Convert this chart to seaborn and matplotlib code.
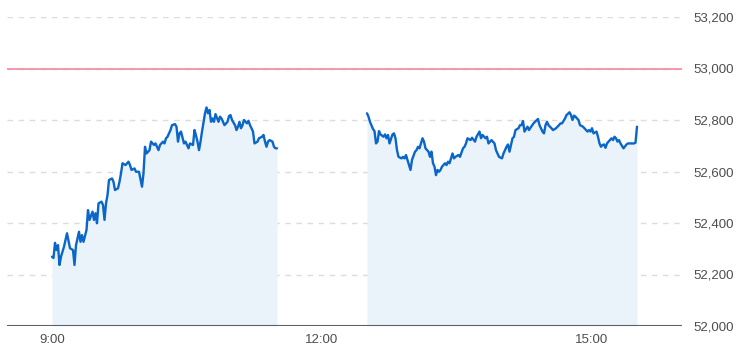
import matplotlib
matplotlib.use("Agg")
import matplotlib.pyplot as plt
import seaborn as sns
import pandas as pd

# minutes after 9:00
morning_min = [0, 1, 2, 3, 4, 5, 6, 8, 10, 12, 14, 15, 16, 18, 19, 20, 21, 23, 24, 25, 27, 28, 29, 30,
               31, 33, 34, 35, 36, 37, 38, 40, 41, 42, 44, 45, 46, 47, 49, 51, 52, 53, 55, 56, 58, 60,
               61, 62, 63, 65, 66, 68, 69, 71, 72, 74, 75, 76, 77, 79, 80, 82, 83, 84, 85, 86, 88, 89,
               91, 92, 94, 95, 96, 97, 98, 99, 100, 102, 103, 104, 105, 106, 107, 108, 109, 111, 112,
               113, 115, 117, 118, 119, 120, 122, 123, 124, 125, 126, 127, 128, 130, 131, 132, 133,
               134, 135, 137, 138, 140, 141, 142, 143, 144, 145, 147, 148, 149, 150]
morning_val = [52269, 52264, 52323, 52295, 52314, 52237, 52269, 52308, 52360, 52302, 52295, 52237,
               52314, 52366, 52327, 52353, 52327, 52373, 52450, 52412, 52444, 52412, 52438, 52399,
               52476, 52483, 52470, 52412, 52476, 52508, 52567, 52573, 52560, 52528, 52535, 52560,
               52593, 52632, 52625, 52638, 52625, 52606, 52612, 52599, 52599, 52541, 52593, 52696,
               52670, 52683, 52716, 52703, 52709, 52683, 52703, 52716, 52709, 52729, 52735, 52761,
               52780, 52784, 52774, 52716, 52748, 52755, 52709, 52716, 52690, 52709, 52703, 52761,
               52740, 52716, 52683, 52716, 52755, 52826, 52849, 52826, 52839, 52793, 52806, 52793,
               52823, 52793, 52813, 52806, 52780, 52793, 52815, 52819, 52800, 52780, 52761, 52774,
               52793, 52768, 52780, 52800, 52787, 52797, 52780, 52768, 52755, 52709, 52716, 52729,
               52735, 52742, 52716, 52696, 52716, 52722, 52716, 52696, 52690, 52690]

afternoon_min = [210, 211, 212, 214, 215, 216, 217, 218, 219, 221, 222, 223, 224, 225, 227, 228, 229,
                 230, 231, 233, 234, 235, 236, 237, 239, 240, 242, 243, 244, 245, 247, 248, 249, 251,
                 252, 253, 254, 255, 256, 257, 258, 259, 260, 262, 263, 264, 265, 267, 268, 269, 271,
                 272, 274, 275, 276, 277, 279, 280, 282, 283, 285, 286, 287, 289, 290, 291, 293, 295,
                 296, 298, 300, 301, 303, 304, 305, 307, 308, 309, 311, 312, 313, 314, 315, 317, 318,
                 319, 321, 322, 324, 325, 327, 328, 329, 330, 331, 333, 334, 336, 338, 339, 340, 341,
                 342, 343, 345, 346, 347, 348, 349, 350, 351, 352, 354, 356, 357, 358, 359, 360, 361,
                 363, 364, 365, 366, 367, 368, 369, 370, 371, 373, 374, 375, 376, 377, 378, 379, 381,
                 383, 384, 386, 388, 389, 390]
afternoon_val = [52826, 52813, 52793, 52765, 52757, 52709, 52716, 52757, 52744, 52735, 52744, 52729,
                 52742, 52709, 52744, 52748, 52729, 52683, 52657, 52651, 52657, 52651, 52664, 52645,
                 52606, 52645, 52677, 52683, 52696, 52690, 52729, 52716, 52690, 52677, 52657, 52677,
                 52632, 52619, 52586, 52606, 52599, 52606, 52619, 52632, 52625, 52638, 52632, 52670,
                 52651, 52657, 52664, 52657, 52690, 52696, 52709, 52729, 52722, 52731, 52716, 52735,
                 52755, 52729, 52742, 52729, 52735, 52709, 52722, 52709, 52683, 52657, 52651, 52670,
                 52696, 52705, 52677, 52729, 52735, 52761, 52768, 52780, 52780, 52796, 52755, 52774,
                 52761, 52770, 52787, 52793, 52804, 52780, 52755, 52748, 52780, 52793, 52780, 52768,
                 52761, 52768, 52780, 52787, 52787, 52796, 52806, 52819, 52830, 52819, 52800, 52817,
                 52813, 52806, 52800, 52780, 52774, 52761, 52755, 52761, 52755, 52768, 52748, 52755,
                 52735, 52709, 52696, 52703, 52705, 52692, 52709, 52716, 52729, 52722, 52735, 52729,
                 52716, 52722, 52709, 52690, 52705, 52709, 52709, 52709, 52712, 52774]

reference_level = 53000
y_ticks = [52000, 52200, 52400, 52600, 52800, 53000, 53200]
x_tick_pos = [0, 180, 360]
x_tick_labels = ["9:00", "12:00", "15:00"]

sns.set_theme(style="white")
plt.rcParams["font.family"] = ["Liberation Sans", "DejaVu Sans"]

fig = plt.figure(figsize=(7.36, 3.56), dpi=100)
ax = fig.add_axes([7 / 736, 30 / 356, 675 / 736, 309 / 356])

line_color = "#0a66c8"
fill_color = "#eaf2fa"
base = y_ticks[0]

for mins, vals in [(morning_min, morning_val), (afternoon_min, afternoon_val)]:
    df = pd.DataFrame({"minute": mins, "value": vals})
    ax.fill_between(df["minute"], df["value"], base, color=fill_color, linewidth=0, zorder=1)
    sns.lineplot(data=df, x="minute", y="value", ax=ax, color=line_color, linewidth=1.7,
                 zorder=4, estimator=None)

for yv in y_ticks[1:]:
    ax.axhline(yv, color="#dcdcdc", linewidth=1.0, linestyle=(0, (4, 4)), zorder=0)
ax.axhline(reference_level, color="#f590a4", linewidth=1.3, zorder=3)
ax.axhline(base, color="#5a6068", linewidth=1.5, zorder=5)

ax.set_xlim(-30, 420)
ax.set_ylim(52000, 53200)
ax.set_xticks(x_tick_pos)
ax.set_xticklabels(x_tick_labels)
ax.set_yticks(y_ticks)
ax.set_yticklabels([f"{v:,}" for v in y_ticks])
ax.yaxis.tick_right()
ax.tick_params(axis="both", length=0, labelsize=9.5, colors="#4d4d4d")
ax.tick_params(axis="y", pad=8)
ax.tick_params(axis="x", pad=6)
ax.set_xlabel("")
ax.set_ylabel("")
ax.grid(False)
for s in ax.spines.values():
    s.set_visible(False)

fig.savefig("out.png", dpi=100, facecolor="white")
